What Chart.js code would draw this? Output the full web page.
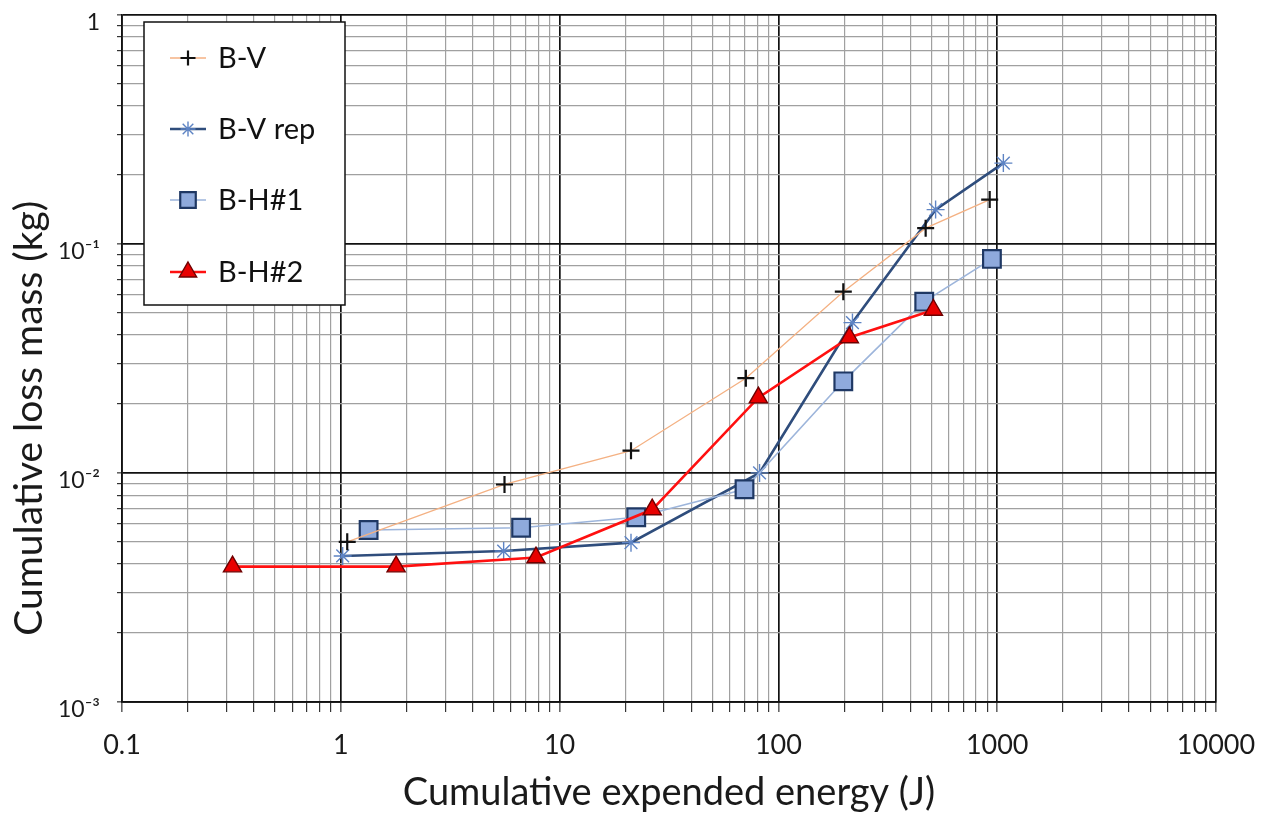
<!DOCTYPE html>
<html><head><meta charset="utf-8">
<script src="https://cdn.jsdelivr.net/npm/chart.js@4.4.1/dist/chart.umd.min.js"></script>
<style>html,body{margin:0;padding:0;background:#fff;}#wrap{width:1267px;height:819px;position:relative;}</style>
</head><body><div id="wrap"><canvas id="c"></canvas></div>
<script>
// ---- data ----
const seriesNames = ['B-V', 'B-V rep', 'B-H#1', 'B-H#2'];
const bvX  = [1.07, 5.6, 21.2, 71, 198, 471, 924];
const bvY  = [0.0050, 0.0089, 0.0125, 0.0259, 0.0618, 0.117, 0.156];
const bvrX = [1.02, 5.55, 21.2, 82, 218, 523, 1067];
const bvrY = [0.00434, 0.00456, 0.00496, 0.0100, 0.0453, 0.141, 0.225];
const bh1X = [1.34, 6.67, 22.4, 70, 198, 464, 946];
const bh1Y = [0.00563, 0.00576, 0.0064, 0.00848, 0.0251, 0.0559, 0.0859];
const bh2X = [0.32, 1.79, 7.8, 26.5, 81, 211, 511];
const bh2Y = [0.0039, 0.0039, 0.00427, 0.00692, 0.0213, 0.039, 0.0514];
const xTickLabels = ['0.1', '1', '10', '100', '1000', '10000'];
const yTickLabels = ['10\u207B\u00B3', '10\u207B\u00B2', '10\u207B\u00B9', '1'];
const xTitle = 'Cumulative expended energy (J)';
const yTitle = 'Cumulative loss mass (kg)';

const FONT = 'Lato, "Open Sans", sans-serif';
const pts = (xs, ys) => xs.map((x, i) => ({x: x, y: ys[i]}));
const isPow10 = v => Math.abs(Math.log10(v) - Math.round(Math.log10(v))) < 1e-9;

function logTicks(minExp, maxExp) {
  const t = [];
  for (let e = minExp; e < maxExp; e++) {
    for (let s = 1; s <= 9; s++) t.push({value: +(s * Math.pow(10, e)).toPrecision(6)});
  }
  t.push({value: Math.pow(10, maxExp)});
  return t;
}

const gridColor = c => (c.tick && isPow10(c.tick.value)) ? '#111' : '#a0a0a0';
const gridWidth = c => (c.tick && isPow10(c.tick.value)) ? 1.7 : 1.2;

const datasets = [
  {label: seriesNames[0], data: pts(bvX, bvY), borderColor: '#F4B183', borderWidth: 1.3,
   pointStyle: 'cross', pointRadius: 8.5, pointBorderWidth: 2.2, pointBorderColor: '#111', pointBackgroundColor: '#111', order: 1},
  {label: seriesNames[1], data: pts(bvrX, bvrY), borderColor: '#2F4D7C', borderWidth: 2.6,
   pointStyle: 'star', pointRadius: 9, pointBorderWidth: 1.4, pointBorderColor: '#5E84C4', pointBackgroundColor: '#5E84C4', order: 3},
  {label: seriesNames[2], data: pts(bh1X, bh1Y), borderColor: '#9DB5DB', borderWidth: 1.6,
   pointStyle: 'rect', pointRadius: 12.5, pointBorderWidth: 2.2, pointBorderColor: '#1F3864', pointBackgroundColor: '#8FAADC', order: 2},
  {label: seriesNames[3], data: pts(bh2X, bh2Y), borderColor: '#FF1010', borderWidth: 2.6,
   pointStyle: 'triangle', pointRadius: 10.5, pointBorderWidth: 1.4, pointBorderColor: '#6E0000', pointBackgroundColor: '#E80000', order: 0}
];
datasets.forEach(d => { d.showLine = true; d.tension = 0; d.fill = false; d.pointHoverRadius = d.pointRadius; });

const boxLegend = {
  id: 'boxLegend',
  afterDraw(chart) {
    const ctx = chart.ctx;
    const L = 144, T = 22, R = 345, B = 305;
    ctx.save();
    ctx.fillStyle = '#fff';
    ctx.fillRect(L, T, R - L, B - T);
    ctx.strokeStyle = '#111';
    ctx.lineWidth = 1.5;
    ctx.strokeRect(L, T, R - L, B - T);
    const rows = [58, 129, 200, 272];
    chart.data.datasets.forEach((d, i) => {
      const y = rows[i];
      ctx.beginPath();
      ctx.strokeStyle = d.borderColor;
      ctx.lineWidth = d.borderWidth;
      ctx.moveTo(170, y); ctx.lineTo(206, y);
      ctx.stroke();
      ctx.fillStyle = d.pointBackgroundColor;
      ctx.strokeStyle = d.pointBorderColor;
      ctx.lineWidth = d.pointBorderWidth;
      const r = d.pointStyle === 'rect' ? 11 : (d.pointStyle === 'triangle' ? 10 : 7.5);
      if (Chart.helpers && Chart.helpers.drawPoint) {
        Chart.helpers.drawPoint(ctx, {pointStyle: d.pointStyle, rotation: 0, radius: r, borderWidth: d.pointBorderWidth}, 188, y);
      }
      ctx.fillStyle = '#111';
      ctx.font = '29px ' + FONT;
      ctx.textAlign = 'left';
      ctx.textBaseline = 'middle';
      ctx.fillText(d.label, 218, y + 1);
    });
    ctx.restore();
  }
};

new Chart(document.getElementById('c'), {
  type: 'scatter',
  data: {datasets: datasets},
  plugins: [boxLegend],
  options: {
    responsive: true,
    maintainAspectRatio: false,
    animation: false,
    layout: {padding: {top: 6, right: 51, left: 0, bottom: 0}},
    plugins: {legend: {display: false}, tooltip: {enabled: false}},
    scales: {
      x: {
        type: 'logarithmic', min: 0.1, max: 10000,
        afterBuildTicks: s => { s.ticks = logTicks(-1, 4); },
        afterFit: s => { s.height = 117; s.paddingLeft = 0; s.paddingRight = 0; },
        grid: {color: gridColor, lineWidth: gridWidth, tickLength: 10, tickColor: '#333', tickWidth: 1.2},
        border: {color: '#111', width: 1.7},
        ticks: {autoSkip: false, maxRotation: 0, padding: 17, color: '#1a1a1a', font: {family: FONT, size: 27},
          callback: v => isPow10(v) ? xTickLabels[Math.round(Math.log10(v)) + 1] : ''},
        title: {display: true, text: xTitle, color: '#1a1a1a', font: {family: FONT, size: 38}, padding: {top: 0, bottom: 3}}
      },
      y: {
        type: 'logarithmic', min: 0.001, max: 1,
        afterBuildTicks: s => { s.ticks = logTicks(-3, 0); },
        afterFit: s => { s.width = 122; s.paddingTop = 0; s.paddingBottom = 0; },
        grid: {color: gridColor, lineWidth: gridWidth, tickLength: 5, tickColor: '#333', tickWidth: 1.2},
        border: {color: '#111', width: 1.7},
        ticks: {autoSkip: false, padding: 17, labelOffset: 8, color: '#1a1a1a', font: {family: FONT, size: 23},
          callback: v => isPow10(v) ? yTickLabels[Math.round(Math.log10(v)) + 3] : ''},
        title: {display: true, text: yTitle + '\u00A0'.repeat(12), color: '#1a1a1a', font: {family: FONT, size: 39}, padding: {top: 6, bottom: 0}}
      }
    }
  }
});
</script>
</body></html>
